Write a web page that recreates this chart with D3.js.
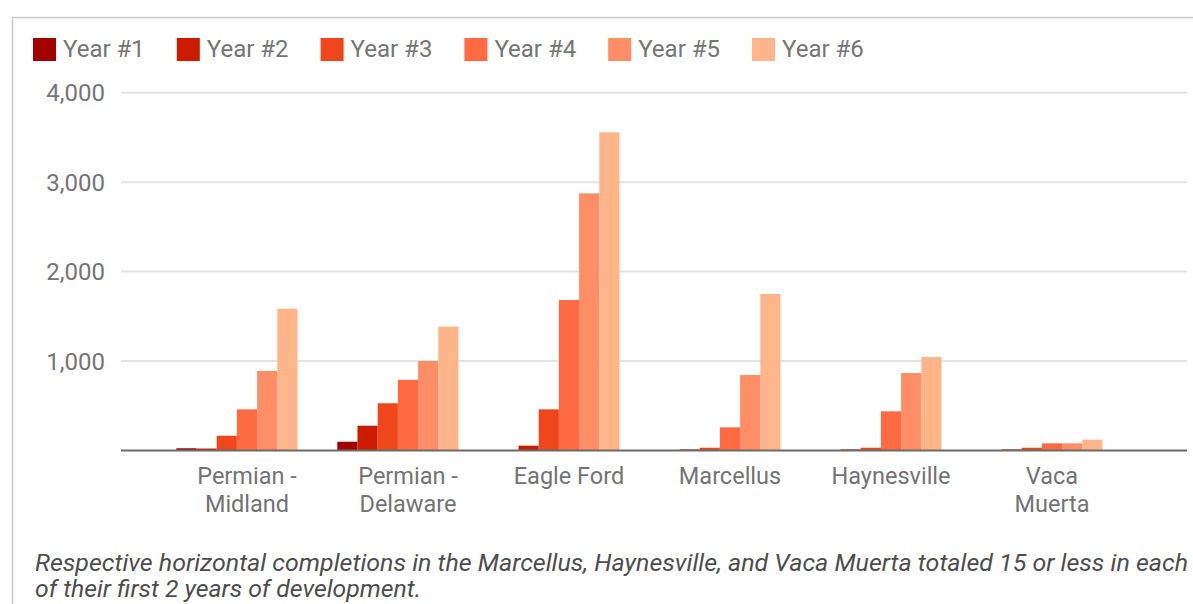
<!DOCTYPE html>
<html><head><meta charset="utf-8">
<script src="https://cdn.jsdelivr.net/npm/d3@7"></script>
<style>html,body{margin:0;padding:0;background:#fff;overflow:hidden}</style>
</head><body><svg id="c" width="1193" height="604"></svg>
<script>
// ---- data ----
const categories = ["Permian - Midland", "Permian - Delaware", "Eagle Ford", "Marcellus", "Haynesville", "Vaca Muerta"];
const categoryLabelLines = [["Permian -", "Midland"], ["Permian -", "Delaware"], ["Eagle Ford"], ["Marcellus"], ["Haynesville"], ["Vaca", "Muerta"]];
const series = ["Year #1", "Year #2", "Year #3", "Year #4", "Year #5", "Year #6"];
const year1 = [25, 98, 5, 5, 5, 5];
const year2 = [22, 277, 54, 12, 12, 12];
const year3 = [165, 528, 460, 31, 31, 31];
const year4 = [460, 790, 1682, 259, 438, 80];
const year5 = [889, 1000, 2875, 844, 866, 80];
const year6 = [1585, 1385, 3557, 1750, 1045, 121];
const seriesValues = [year1, year2, year3, year4, year5, year6];
const colors = ["#a30000", "#cc1c00", "#f0461b", "#ff6a42", "#ff8d66", "#ffb58a"];
const yTicks = [1000, 2000, 3000, 4000];
const footnoteLines = [
  "Respective horizontal completions in the Marcellus, Haynesville, and Vaca Muerta totaled 15 or less in each",
  "of their first 2 years of development."
];

// ---- drawing ----
const svg = d3.select("#c");
const W = 1193, H = 604;
svg.append("rect").attr("width", W).attr("height", H).attr("fill", "#fff");
// frame
svg.append("path").attr("d", `M12.5,${H} V17.5 H${W}`).attr("fill", "none").attr("stroke", "#c8c8c8").attr("stroke-width", 1.5);

const plotL = 121, plotR = 1187;
const y = d3.scaleLinear().domain([0, 4000]).range([450.5, 92.7]);
const x0 = d3.scaleBand().domain(categories).range([166.5, 1132.5]).paddingInner(0).paddingOuter(0);
const barW = 20.2;
const x1 = d3.scaleBand().domain(series).range([0, barW * series.length]);
const groupOffset = -3.5 * barW; // Google-style group slot (one empty trailing slot)

// gridlines
svg.append("g").selectAll("line").data(yTicks).join("line")
  .attr("x1", plotL).attr("x2", plotR)
  .attr("y1", d => y(d)).attr("y2", d => y(d))
  .attr("stroke", "#e3e3e3").attr("stroke-width", 2);

// y labels
svg.append("g").selectAll("text").data(yTicks).join("text")
  .attr("x", 105).attr("y", d => y(d)).attr("dy", "0.36em")
  .attr("text-anchor", "end")
  .attr("font-family", "Roboto, sans-serif").attr("font-size", 24).attr("fill", "#757575")
  .text(d3.format(","));

// bars
const data = [];
categories.forEach((c, i) => series.forEach((s, j) => data.push({c, s, v: seriesValues[j][i], j})));
svg.append("g").selectAll("rect").data(data).join("rect")
  .attr("x", d => x0(d.c) + x0.bandwidth() / 2 + groupOffset + x1(d.s))
  .attr("width", x1.bandwidth())
  .attr("y", d => y(d.v))
  .attr("height", d => y(0) - y(d.v))
  .attr("fill", d => colors[d.j]);

// baseline
svg.append("line").attr("x1", plotL).attr("x2", plotR).attr("y1", y(0)).attr("y2", y(0))
  .attr("stroke", "#6b6b6b").attr("stroke-width", 2);

// category labels
const cl = svg.append("g").selectAll("text").data(categories).join("text")
  .attr("text-anchor", "middle")
  .attr("font-family", "Roboto, sans-serif").attr("font-size", 23.5).attr("fill", "#737373");
cl.each(function(c, i) {
  const t = d3.select(this);
  categoryLabelLines[i].forEach((ln, k) => {
    t.append("tspan").attr("x", x0(c) + x0.bandwidth() / 2).attr("y", 484 + k * 28).text(ln);
  });
});

// legend
const lx = d3.scalePoint().domain(series).range([33, 752]);
const lg = svg.append("g").selectAll("g").data(series).join("g")
  .attr("transform", d => `translate(${lx(d)},38)`);
lg.append("rect").attr("width", 23).attr("height", 23).attr("fill", (d, i) => colors[i]);
lg.append("text").attr("x", 30).attr("y", 19)
  .attr("font-family", "Roboto, sans-serif").attr("font-size", 24).attr("fill", "#757575")
  .text(d => d);

// footnote
const fn = svg.append("text").attr("font-family", "Roboto, sans-serif").attr("font-style", "italic")
  .attr("font-size", 24).attr("fill", "#4d4d4d");
fn.append("tspan").attr("x", 35).attr("y", 571).attr("textLength", 1153).attr("lengthAdjust", "spacingAndGlyphs").text(footnoteLines[0]);
fn.append("tspan").attr("x", 35).attr("y", 597).attr("textLength", 386).attr("lengthAdjust", "spacingAndGlyphs").text(footnoteLines[1]);
</script>
</body></html>
